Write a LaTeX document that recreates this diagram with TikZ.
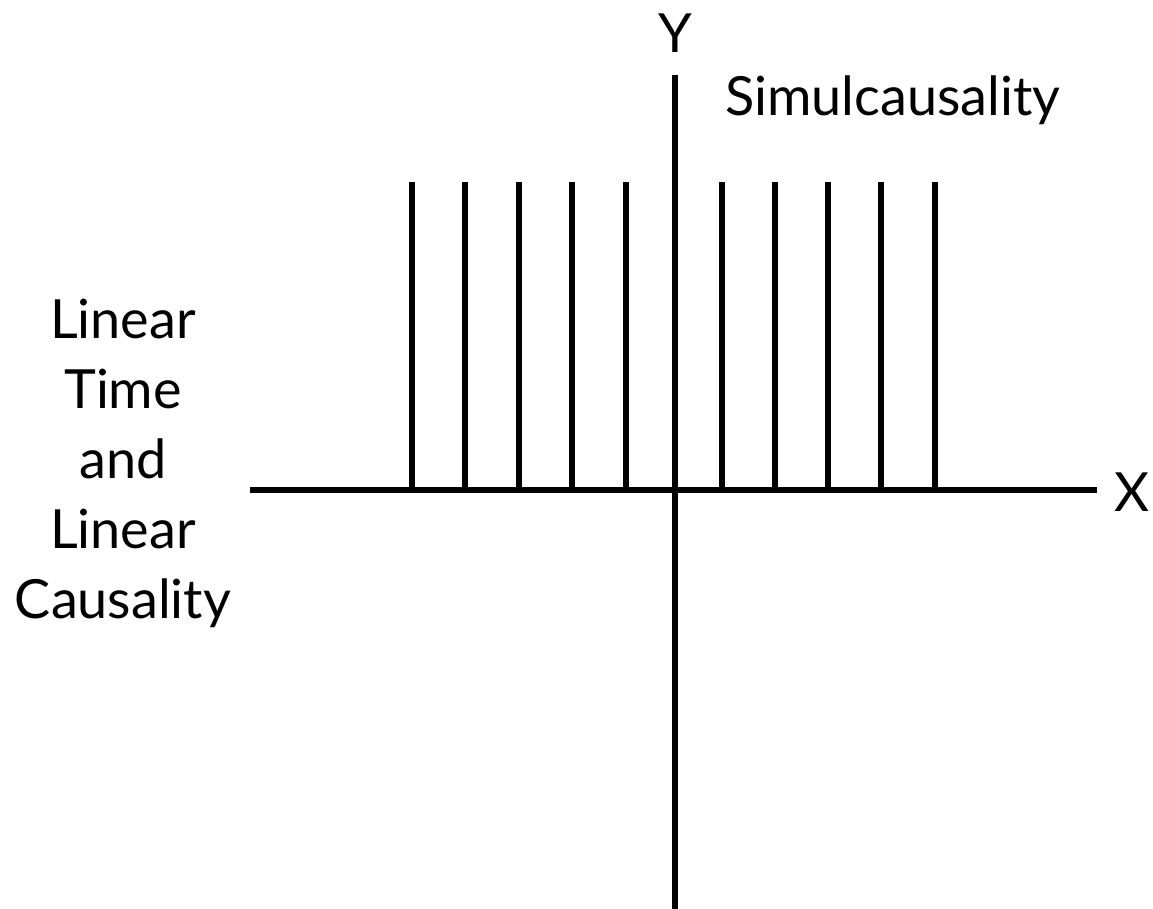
\documentclass[tikz,border=0pt]{standalone}
\usepackage{fontspec}
\setmainfont{Lato}
\begin{document}
\begin{tikzpicture}[x=1pt,y=-1pt,
  axis/.style={line width=6pt},
  bar/.style={line width=5.5pt},
  lbl/.style={inner sep=0pt,font=\fontsize{54}{60}\selectfont},
  sidelbl/.style={inner sep=0pt,align=center,font=\fontsize{54}{70}\selectfont}]
\useasboundingbox (0,0) rectangle (1153,909);
\coordinate (xl) at (250,490);
\coordinate (xr) at (1097,490);
\coordinate (yt) at (675,75);
\coordinate (yb) at (675,909);
\draw[axis] (xl) -- (xr);
\draw[axis] (yt) -- (yb);
\foreach \i/\x in {1/412,2/465,3/519,4/572,5/626,6/722,7/775,8/828,9/881,10/935}{
  \coordinate (t\i) at (\x,182);
  \coordinate (b\i) at (\x,490);
  \draw[bar] (t\i) -- (b\i);
}
\node[lbl] (ylab) at (675,33) {Y};
\node[lbl] (xlab) at (1132,492) {X};
\node[lbl,anchor=west] (sim) at (725,100) {Simulcausality};
\node[sidelbl] (left) at (123,463) {Linear\\Time\\and\\Linear\\Causality};
\end{tikzpicture}
\end{document}
